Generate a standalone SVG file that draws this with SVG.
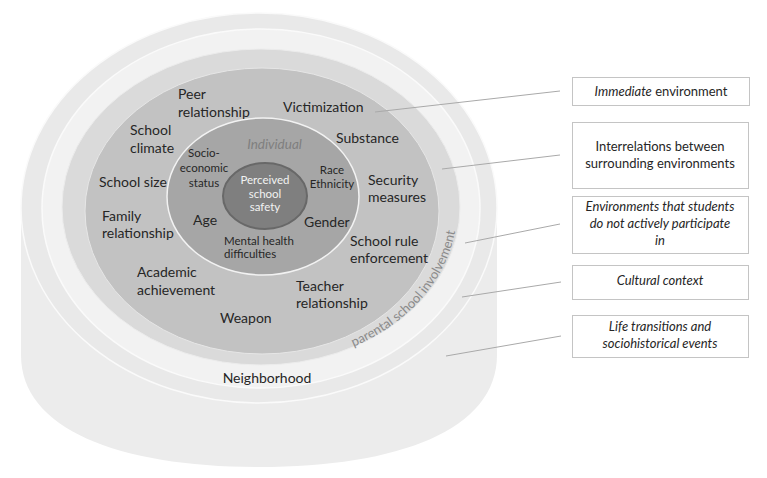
<svg xmlns="http://www.w3.org/2000/svg" width="767" height="478" viewBox="0 0 767 478">
<defs>
<style>
text{font-family:Lato,"Liberation Sans",sans-serif;fill:#262626}
.m{font-size:14px}
.s{font-size:11.5px}
.c{text-anchor:middle}
.i{font-style:italic}
.b{font-size:13px;text-anchor:middle}
.box{fill:#fff;stroke:#c4c4c4;stroke-width:1}
.ln{stroke:#a9a9a9;stroke-width:1;fill:none}
</style>
<path id="arcP" d="M 262,365 A 195 156 0 0 0 457,209 A 195 156 0 0 0 262,53"/>
</defs>
<rect width="767" height="478" fill="#fff"/>
<g id="life-transitions">
<path d="M 21,208 L 21,355 C 21,430 120,467 259,467 C 398,467 497,430 497,355 L 497,208 Z" fill="#ececec"/>
</g>
<g id="cultural-context">
<ellipse cx="259" cy="208" rx="238" ry="195" fill="#e9e9e9" stroke="#fafafa" stroke-width="1.5"/>
</g>
<g id="neighborhood-ring">
<ellipse cx="261" cy="208.5" rx="219" ry="179.5" fill="#f2f2f2" stroke="#fafafa" stroke-width="1.5"/>
<text class="m c" x="267" y="383">Neighborhood</text>
</g>
<g id="interrelations-ring">
<ellipse cx="261" cy="207" rx="199" ry="158" fill="#dadada" stroke="#ececec" stroke-width="1"/>
<text font-size="13" style="fill:#8a8a8a"><textPath href="#arcP" startOffset="94">parental school involvement</textPath></text>
</g>
<g id="immediate-environment">
<ellipse cx="262" cy="211" rx="177" ry="143" fill="#c2c2c2" stroke="#e6e6e6" stroke-width="1"/>
<text class="m" x="178" y="99">Peer</text>
<text class="m" x="178" y="117">relationship</text>
<text class="m" x="283" y="112">Victimization</text>
<text class="m" x="130" y="135">School</text>
<text class="m" x="130" y="153">climate</text>
<text class="m" x="336" y="143">Substance</text>
<text class="m" x="99" y="187">School size</text>
<text class="m" x="368" y="185">Security</text>
<text class="m" x="368" y="202">measures</text>
<text class="m" x="102" y="221">Family</text>
<text class="m" x="102" y="238">relationship</text>
<text class="m" x="350" y="246">School rule</text>
<text class="m" x="350" y="263">enforcement</text>
<text class="m" x="137" y="277">Academic</text>
<text class="m" x="137" y="295">achievement</text>
<text class="m" x="296" y="291">Teacher</text>
<text class="m" x="296" y="308">relationship</text>
<text class="m" x="220" y="323">Weapon</text>
</g>
<g id="individual">
<ellipse cx="263" cy="196.5" rx="96" ry="78.5" fill="#a6a6a6" stroke="#f2f2f2" stroke-width="1.5"/>
<text class="c i" x="274.5" y="149" font-size="13.5" style="fill:#7f7f7f">Individual</text>
<text class="s c" x="204" y="157">Socio-</text>
<text class="s c" x="204" y="172">economic</text>
<text class="s c" x="204" y="187">status</text>
<text class="s c" x="332" y="174">Race</text>
<text class="s c" x="332" y="188">Ethnicity</text>
<text class="m" x="193" y="225">Age</text>
<text class="m" x="304" y="227">Gender</text>
<text class="s" x="224" y="245">Mental health</text>
<text class="s" x="224" y="258">difficulties</text>
</g>
<g id="perceived-school-safety">
<ellipse cx="265" cy="196" rx="42" ry="33" fill="#7f7f7f" stroke="#686868" stroke-width="2"/>
<text class="s c" x="265" y="184" style="fill:#f2f2f2">Perceived</text>
<text class="s c" x="265" y="198" style="fill:#f2f2f2">school</text>
<text class="s c" x="265" y="211" style="fill:#f2f2f2">safety</text>
</g>
<g id="connectors">
<line class="ln" x1="375" y1="112" x2="560" y2="91"/>
<line class="ln" x1="442" y1="169" x2="560" y2="155"/>
<line class="ln" x1="465" y1="243" x2="560" y2="224"/>
<line class="ln" x1="462" y1="297" x2="561" y2="282"/>
<line class="ln" x1="446" y1="356" x2="561" y2="336"/>
</g>
<g id="box-immediate">
<rect class="box" x="572.5" y="77.5" width="177" height="28"/>
<text class="b" x="661" y="96"><tspan class="i">Immediate</tspan> environment</text>
</g>
<g id="box-interrelations">
<rect class="box" x="572.5" y="122.5" width="176" height="66"/>
<text class="b" x="660" y="151">Interrelations between</text>
<text class="b" x="660" y="168">surrounding environments</text>
</g>
<g id="box-environments">
<rect class="box" x="572.5" y="196.5" width="176" height="57"/>
<text class="b i" x="660" y="211">Environments that students</text>
<text class="b i" x="660" y="228">do not actively participate</text>
<text class="b i" x="660" y="245">in</text>
</g>
<g id="box-cultural">
<rect class="box" x="572.5" y="265.5" width="176" height="34"/>
<text class="b i" x="660" y="285">Cultural context</text>
</g>
<g id="box-life">
<rect class="box" x="572.5" y="315.5" width="176" height="42"/>
<text class="b i" x="660" y="331">Life transitions and</text>
<text class="b i" x="660" y="348">sociohistorical events</text>
</g>
</svg>
